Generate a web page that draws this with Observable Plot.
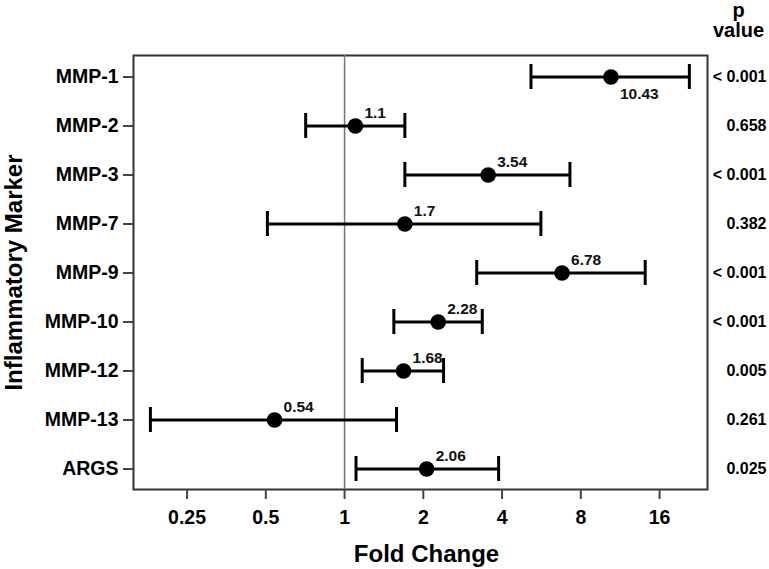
<!DOCTYPE html>
<html>
<head>
<meta charset="utf-8">
<script src="https://cdn.jsdelivr.net/npm/d3@7"></script>
<script src="https://cdn.jsdelivr.net/npm/@observablehq/plot@0.6"></script>
<style>
  body { margin: 0; background: #fff; }
  svg { font-family: "Liberation Sans", Arial, sans-serif; font-weight: bold; }
</style>
</head>
<body>
<div id="chart"></div>
<script>
const markers = ["MMP-1","MMP-2","MMP-3","MMP-7","MMP-9","MMP-10","MMP-12","MMP-13","ARGS"];
const foldChange = [10.43, 1.1, 3.54, 1.7, 6.78, 2.28, 1.68, 0.54, 2.06];
const lowerCI = [5.16, 0.710, 1.70, 0.507, 3.20, 1.543, 1.168, 0.181, 1.106];
const upperCI = [20.8, 1.70, 7.27, 5.63, 14.1, 3.36, 2.39, 1.58, 3.88];
const pValues = ["< 0.001","0.658","< 0.001","0.382","< 0.001","< 0.001","0.005","0.261","0.025"];
const xTicks = [0.25, 0.5, 1, 2, 4, 8, 16];

const data = markers.map((m, i) => ({
  marker: m, fc: foldChange[i], lo: lowerCI[i], hi: upperCI[i], p: pValues[i], idx: i
}));

const chart = Plot.plot({
  width: 769,
  height: 569,
  marginTop: 55,
  marginBottom: 80,
  marginLeft: 133,
  marginRight: 62,
  style: { fontFamily: "Liberation Sans, Arial, sans-serif", fontWeight: "bold", background: "#fff", overflow: "visible" },
  x: { type: "log", base: 2, domain: [0.156, 24.4], label: null },
  y: { type: "band", domain: markers, paddingInner: 0.496, paddingOuter: 0.123, align: 0.5, label: null },
  marks: [
    Plot.frame({ stroke: "#333", strokeWidth: 2 }),
    Plot.ruleX([1], { stroke: "#777", strokeWidth: 1.5 }),
    Plot.axisX({ ticks: xTicks, tickFormat: d => String(d), tickSize: 10, tickPadding: 11, fontSize: 19.5, fontWeight: "bold", stroke: "#444", strokeWidth: 2, fill: "#000", label: null }),
    Plot.axisY({ tickSize: 10, tickPadding: 5, fontSize: 19.5, fontWeight: "bold", stroke: "#444", strokeWidth: 2, fill: "#000", label: null }),
    Plot.ruleY(data, { y: "marker", x1: "lo", x2: "hi", stroke: "#000", strokeWidth: 3 }),
    Plot.tickX(data, { y: "marker", x: "lo", stroke: "#000", strokeWidth: 3 }),
    Plot.tickX(data, { y: "marker", x: "hi", stroke: "#000", strokeWidth: 3 }),
    Plot.dot(data, { y: "marker", x: "fc", r: 7.8, fill: "#000", stroke: "none" }),
    Plot.text(data.filter(d => d.idx > 0), { y: "marker", x: "fc", text: d => String(d.fc), dx: 9, dy: -13, textAnchor: "start", fontSize: 15.5, fontWeight: "bold", fill: "#111" }),
    Plot.text(data.filter(d => d.idx === 0), { y: "marker", x: "fc", text: d => String(d.fc), dx: 9, dy: 17, textAnchor: "start", fontSize: 15.5, fontWeight: "bold", fill: "#111" }),
    Plot.text(data, { y: "marker", frameAnchor: "right", text: "p", dx: 59, textAnchor: "end", fontSize: 16, fontWeight: "bold", fill: "#000" }),
    Plot.text(["p\nvalue"], { frameAnchor: "top-right", text: d => d, dx: 31, dy: -19, lineAnchor: "bottom", lineHeight: 1.0, textAnchor: "middle", fontSize: 20, fontWeight: "bold", fill: "#000" }),
    Plot.text(["Fold Change"], { frameAnchor: "bottom", text: d => d, dx: 6, dy: 72, fontSize: 24, fontWeight: "bold", fill: "#000" }),
    Plot.text(["Inflammatory Marker"], { frameAnchor: "left", text: d => d, dx: -119, rotate: -90, textAnchor: "middle", fontSize: 24, fontWeight: "bold", fill: "#000" })
  ]
});
document.getElementById("chart").appendChild(chart);
</script>
</body>
</html>
